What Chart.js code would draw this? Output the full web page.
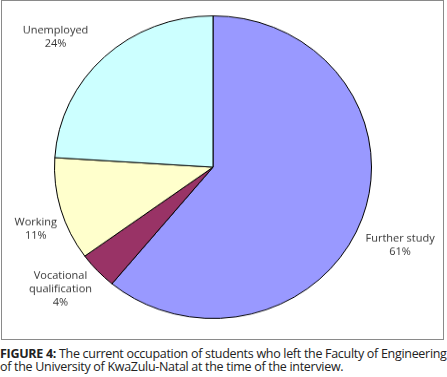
<!DOCTYPE html>
<html>
<head>
<meta charset="utf-8">
<script src="https://cdn.jsdelivr.net/npm/chart.js@4"></script>
<style>
  body { margin: 0; background: #fff; width: 447px; height: 377px; overflow: hidden; }
  #box { position: absolute; left: 1px; top: 0; width: 441px; height: 338px; border: 1px solid #8a8a8a; }
  #box canvas { display: block; width: 441px !important; height: 338px !important; }
  #caption { position: absolute; left: 0; top: 347px; width: 447px; font-family: "Open Sans", sans-serif; font-size: 12.5px; line-height: 13px; letter-spacing: -0.3px; color: #222; white-space: nowrap; }
</style>
</head>
<body>
<div id="box"><canvas id="pieChart" width="441" height="354"></canvas></div>
<div id="caption"><b>FIGURE 4:</b> The current occupation of students who left the Faculty of Engineering<br>of the University of KwaZulu-Natal at the time of the interview.</div>
<script>
// 数据
const categories = ['Further study', 'Vocational qualification', 'Working', 'Unemployed'];
const labelLines = [['Further study', '61%'], ['Vocational', 'qualification', '4%'], ['Working', '11%'], ['Unemployed', '24%']];
const values = [61, 4, 11, 24];
const colors = ['#9999ff', '#993366', '#ffffcc', '#ccffff'];
// 标签相对于扇形外缘中点的偏移
const labelOffset = [[38, 28], [-37, 19], [-25, 21], [-49, -21]];

// 外部标签
const outsideLabels = {
    id: 'outsideLabels',
    afterDraw(chart) {
        const ctx = chart.ctx;
        const arcs = chart.getDatasetMeta(0).data;
        ctx.save();
        ctx.font = '11px "Open Sans", sans-serif';
        ctx.fillStyle = '#333';
        ctx.textAlign = 'center';
        ctx.textBaseline = 'middle';
        arcs.forEach((arc, i) => {
            const mid = (arc.startAngle + arc.endAngle) / 2;
            const x = arc.x + Math.cos(mid) * arc.outerRadius + labelOffset[i][0];
            const y = arc.y + Math.sin(mid) * arc.outerRadius + labelOffset[i][1];
            const lines = labelLines[i];
            const lh = 14;
            lines.forEach((t, j) => {
                ctx.fillText(t, x, y + (j - (lines.length - 1) / 2) * lh);
            });
        });
        ctx.restore();
    }
};

new Chart(document.getElementById('pieChart'), {
    type: 'pie',
    data: {
        labels: categories,
        datasets: [{
            data: values,
            backgroundColor: colors,
            borderColor: '#000',
            borderWidth: 1
        }]
    },
    options: {
        responsive: false,
        animation: false,
        layout: { padding: { left: 52, right: 71, top: 15, bottom: 21 } },
        plugins: {
            legend: { display: false },
            tooltip: { enabled: false }
        }
    },
    plugins: [outsideLabels]
});
</script>
</body>
</html>
